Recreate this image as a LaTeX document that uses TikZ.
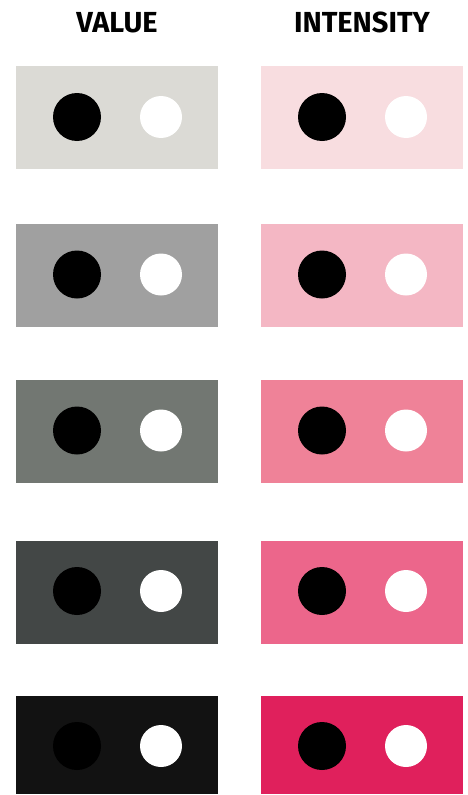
\documentclass[tikz,border=0pt]{standalone}
\usepackage{fontspec}
\setmainfont{Fira Sans}
\usepackage{tikz}
\definecolor{valueA}{HTML}{DBDAD5}
\definecolor{valueB}{HTML}{A0A0A0}
\definecolor{valueC}{HTML}{727772}
\definecolor{valueD}{HTML}{434746}
\definecolor{valueE}{HTML}{121212}
\definecolor{intensA}{HTML}{F8DDE0}
\definecolor{intensB}{HTML}{F4B7C4}
\definecolor{intensC}{HTML}{EF8298}
\definecolor{intensD}{HTML}{EC668B}
\definecolor{intensE}{HTML}{E0205C}

\begin{document}
\begin{tikzpicture}[x=1pt, y=-1pt,
  swatch/.style={rectangle, inner sep=0pt, outer sep=0pt,
                 minimum width=202pt, minimum height=103pt},
  dark/.style={circle, fill=black, inner sep=0pt, minimum size=48pt},
  light/.style={circle, fill=white, inner sep=0pt, minimum size=42pt},
  heading/.style={anchor=base, font=\fontsize{29}{30}\selectfont\bfseries},
]
  \useasboundingbox (0,0) rectangle (468,795);

  \node[heading] (valtitle) at (117, 32) {VALUE};
  \node[heading] (inttitle) at (362, 32) {INTENSITY};

  % value column
  \node[swatch, fill=valueA] (val1) at (117, 117.5) {};
  \node[swatch, fill=valueB] (val2) at (117, 275.5) {};
  \node[swatch, fill=valueC] (val3) at (117, 431.5) {};
  \node[swatch, fill=valueD] (val4) at (117, 592.5) {};
  \node[swatch, fill=valueE, minimum height=98pt] (val5) at (117, 745) {};

  % intensity column
  \node[swatch, fill=intensA] (int1) at (362, 117.5) {};
  \node[swatch, fill=intensB] (int2) at (362, 275.5) {};
  \node[swatch, fill=intensC] (int3) at (362, 431.5) {};
  \node[swatch, fill=intensD] (int4) at (362, 592.5) {};
  \node[swatch, fill=intensE, minimum height=98pt] (int5) at (362, 745) {};

  \node[dark]  (valdark1)  at (77, 117)  {};
  \node[light] (vallight1) at (161, 117) {};
  \node[dark]  (valdark2)  at (77, 274.5)  {};
  \node[light] (vallight2) at (161, 274.5) {};
  \node[dark]  (valdark3)  at (77, 430.5)  {};
  \node[light] (vallight3) at (161, 430.5) {};
  \node[dark]  (valdark4)  at (77, 591)  {};
  \node[light] (vallight4) at (161, 591) {};
  \node[dark]  (valdark5)  at (77, 746)  {};
  \node[light] (vallight5) at (161, 746) {};

  \node[dark]  (intdark1)  at (322, 117)  {};
  \node[light] (intlight1) at (406, 117) {};
  \node[dark]  (intdark2)  at (322, 274.5)  {};
  \node[light] (intlight2) at (406, 274.5) {};
  \node[dark]  (intdark3)  at (322, 430.5)  {};
  \node[light] (intlight3) at (406, 430.5) {};
  \node[dark]  (intdark4)  at (322, 591)  {};
  \node[light] (intlight4) at (406, 591) {};
  \node[dark]  (intdark5)  at (322, 746)  {};
  \node[light] (intlight5) at (406, 746) {};
\end{tikzpicture}
\end{document}
